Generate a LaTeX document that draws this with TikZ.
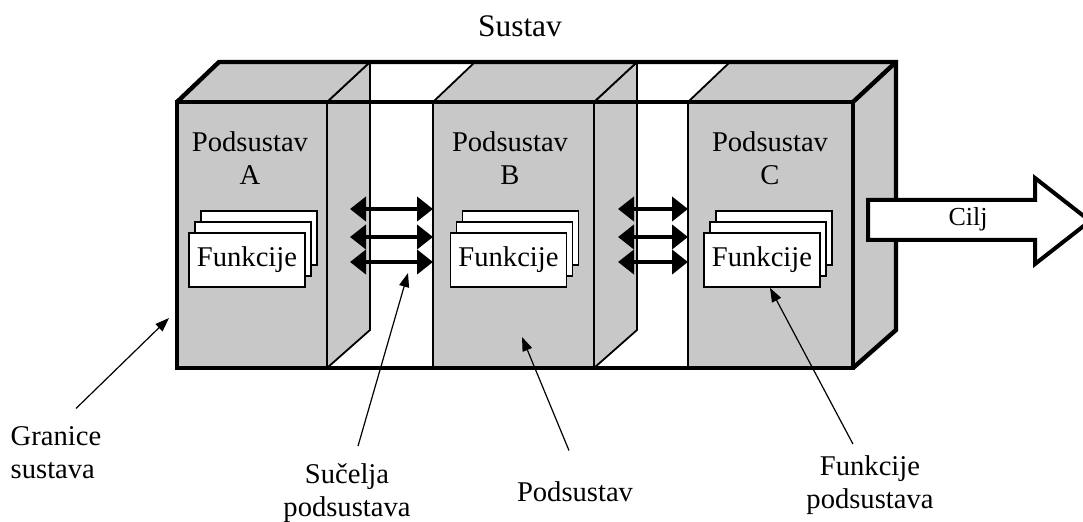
\documentclass[tikz,border=0pt]{standalone}
\usepackage{fontspec}
\setmainfont{Liberation Serif}
\usetikzlibrary{positioning,arrows.meta,shadows,calc}
\definecolor{facegray}{RGB}{200,200,200}

\begin{document}
\begin{tikzpicture}[x=0.5pt, y=-0.5pt,
    face/.style = {draw, fill=facegray, line width=0.9pt, outer sep=0pt},
    frame/.style = {draw, line width=2.2pt, line join=miter},
    fbox/.style = {draw, fill=white, line width=0.9pt, minimum width=58pt, minimum height=27pt, inner sep=0pt,
      copy shadow={shadow xshift=6pt, shadow yshift=11pt},
      copy shadow={shadow xshift=3pt, shadow yshift=5.5pt}},
    lbl/.style = {font=\fontsize{14.3}{16.5}\selectfont, align=center, inner sep=2pt},
    link/.style = {line width=2pt, {Triangle[length=8pt,width=12pt]}-{Triangle[length=8pt,width=12pt]}},
    ptr/.style = {line width=0.6pt, -{Triangle[length=7pt,width=5pt]}}]
  \useasboundingbox (0,0) rectangle (1083,522);

  % front faces of the subsystems
  \node[face, minimum width=75pt, minimum height=133pt] (subA) at (252,235) {};
  \node[face, minimum width=80.5pt, minimum height=133pt] (subB) at (513.5,235) {};
  \node[face, minimum width=82.5pt, minimum height=133pt] (subC) at (770.5,235) {};

  % side and top faces
  \foreach \s in {subA,subB,subC} {
    \filldraw[face] (\s.north east) -- ++(43,-40) -- ++(0,268) -- (\s.south east) -- cycle;
    \filldraw[face] (\s.north west) -- ++(42,-40) -- ([shift={(43,-40)}]\s.north east) -- (\s.north east) -- cycle;
  }

  % system boundary
  \draw[frame] (subA.south west) rectangle (subC.north east);
  \draw[frame] (subA.north west) -- ++(42,-40) -- ([shift={(43,-40)}]subC.north east) -- ++(0,268) -- (subC.south east);
  \draw[frame] (subC.north east) -- ++(43,-40);

  \node[lbl, font=\fontsize{15.7}{18}\selectfont] (sustav) at (520,26) {Sustav};

  \node[lbl] (labA) at (250,158) {Podsustav\\A};
  \node[lbl] (labB) at (510,158) {Podsustav\\B};
  \node[lbl] (labC) at (770,158) {Podsustav\\C};

  \node[fbox, lbl] (fA) at (247,260) {Funkcije};
  \node[fbox, lbl] (fB) at (508.5,260) {Funkcije};
  \node[fbox, lbl] (fC) at (762,260) {Funkcije};

  % interfaces
  \foreach \y in {209,237,262} {
    \draw[link] ($(subA.east |- 0,\y)+(23,0)$) -- (subB.west |- 0,\y);
    \draw[link] ($(subB.east |- 0,\y)+(24,0)$) -- (subC.west |- 0,\y);
  }

  % goal
  \draw[line width=2pt, fill=white] (868,200) -- (1035,200) -- (1035,178) -- (1090,221)
    -- (1035,264) -- (1035,240) -- (868,240) -- cycle;
  \node[lbl, font=\fontsize{13}{15}\selectfont] (cilj) at (968,219) {Cilj};

  % captions
  \node[lbl, align=left] (granice) at (56,453) {Granice\\sustava};
  \node[lbl] (sucelja) at (347,493) {Sučelja\\podsustava};
  \node[lbl] (podsustav) at (575,492) {Podsustav};
  \node[lbl] (funkcije) at (870,485) {Funkcije\\podsustava};

  \coordinate (edgeA) at (169,318);
  \coordinate (gapAB) at (408,273);
  \coordinate (bodyB) at (522,337);

  \draw[ptr] ([xshift=10pt,yshift=7pt]granice.north) -- (edgeA);
  \draw[ptr] ([xshift=5.5pt,yshift=6.5pt]sucelja.north) -- (gapAB);
  \draw[ptr] ([xshift=-3pt,yshift=13.5pt]podsustav.north) -- (bodyB);
  \draw[ptr] ([xshift=-8.5pt,yshift=3.5pt]funkcije.north) -- ([xshift=4pt]fC.south);
\end{tikzpicture}
\end{document}
